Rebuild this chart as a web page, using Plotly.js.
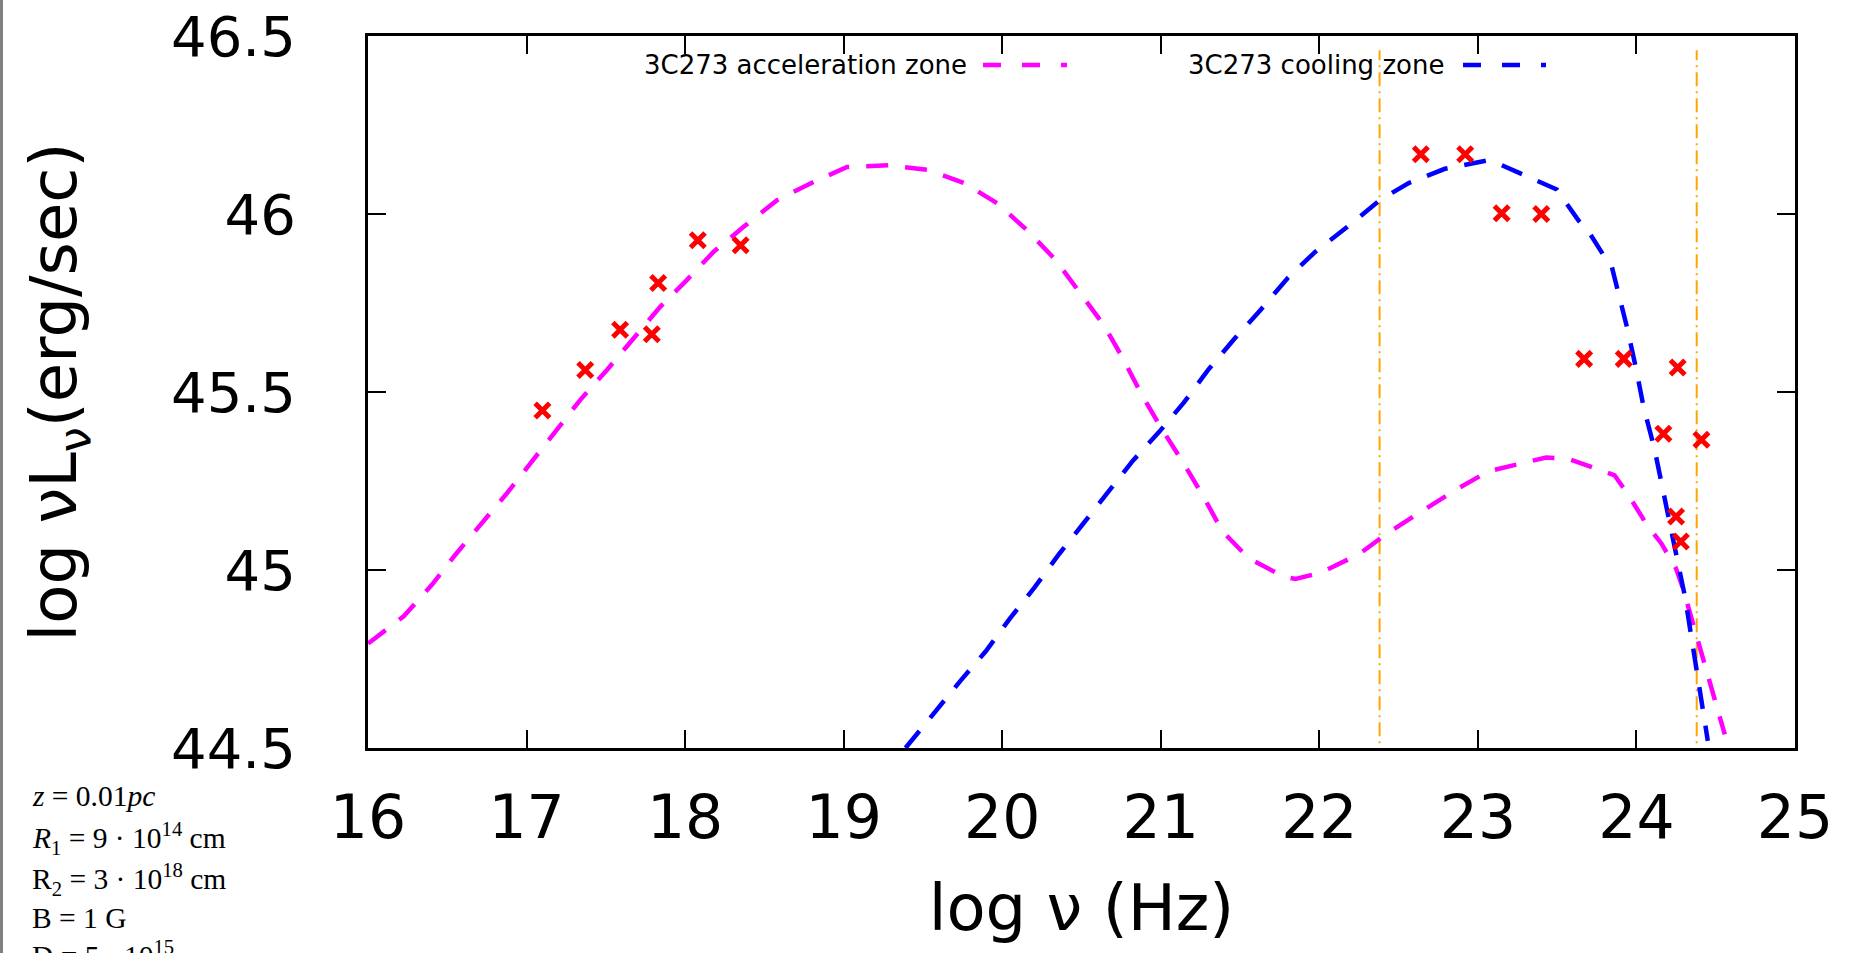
<!DOCTYPE html>
<html>
<head>
<meta charset="utf-8">
<script src="https://cdn.plot.ly/plotly-3.0.1.min.js"></script>
<style>
html,body{margin:0;padding:0;background:#fff;overflow:hidden;}
#chart{position:absolute;left:0;top:0;width:1866px;height:953px;}
#edge{position:absolute;left:0;top:0;width:3px;height:953px;background:#808080;}
</style>
</head>
<body>
<div id="chart"></div>
<div id="edge"></div>
<script>
// ---- Data ----
// observed points of 3C273 (log nu, log nuLnu)
const obsX = [17.10, 17.37, 17.59, 17.79, 17.83, 18.08, 18.35, 22.64, 22.92, 23.15, 23.40, 23.67, 23.92, 24.26, 24.17, 24.25, 24.28, 24.41];
const obsY = [45.448, 45.562, 45.675, 45.662, 45.806, 45.926, 45.912, 46.168, 46.168, 46.002, 46.0, 45.593, 45.593, 45.569, 45.383, 45.150, 45.080, 45.366];

// 3C273 acceleration zone model curve
const accX = [16.00, 16.02, 16.225, 16.404, 16.551, 16.708, 16.877, 17.034, 17.192, 17.339, 17.507, 17.675, 17.844, 18.012, 18.180, 18.369, 18.580, 18.811, 19.021, 19.286, 19.529, 19.761, 19.972, 20.160, 20.337, 20.481, 20.636, 20.757, 20.879, 21.001, 21.134, 21.267, 21.388, 21.554, 21.776, 21.85, 22.008, 22.252, 22.428, 22.632, 22.860, 23.065, 23.293, 23.430, 23.566, 23.794, 23.862, 23.953, 24.067, 24.158, 24.250, 24.295, 24.386, 24.477, 24.534, 24.557];
const accY = [44.794, 44.800, 44.870, 44.959, 45.043, 45.127, 45.216, 45.305, 45.394, 45.478, 45.562, 45.651, 45.740, 45.815, 45.894, 45.964, 46.039, 46.090, 46.132, 46.137, 46.124, 46.087, 46.029, 45.953, 45.871, 45.784, 45.691, 45.598, 45.493, 45.400, 45.307, 45.208, 45.109, 45.033, 44.981, 44.975, 44.992, 45.045, 45.103, 45.161, 45.225, 45.277, 45.301, 45.316, 45.313, 45.277, 45.266, 45.208, 45.126, 45.074, 45.004, 44.946, 44.806, 44.666, 44.573, 44.538];

// 3C273 cooling zone model curve
const coolX = [19.39, 19.585, 19.739, 19.895, 20.049, 20.204, 20.359, 20.514, 20.669, 20.824, 20.990, 21.145, 21.300, 21.466, 21.632, 21.798, 21.975, 22.177, 22.384, 22.564, 22.792, 22.860, 23.065, 23.110, 23.293, 23.361, 23.498, 23.543, 23.634, 23.703, 23.794, 23.840, 23.885, 23.942, 23.999, 24.045, 24.113, 24.158, 24.226, 24.307, 24.363, 24.397, 24.443, 24.45];
const coolY = [44.50, 44.608, 44.690, 44.771, 44.864, 44.951, 45.045, 45.132, 45.219, 45.307, 45.388, 45.470, 45.563, 45.650, 45.732, 45.819, 45.894, 45.964, 46.040, 46.087, 46.127, 46.133, 46.151, 46.145, 46.110, 46.098, 46.069, 46.040, 45.982, 45.947, 45.883, 45.860, 45.784, 45.679, 45.563, 45.458, 45.342, 45.249, 45.097, 44.923, 44.760, 44.655, 44.538, 44.52];

// vertical marker lines (log nu)
const vlineX = [22.38, 24.38];
const vlineYRange = [44.46, 46.46];

// axes
const xTicks = [16, 17, 18, 19, 20, 21, 22, 23, 24, 25];
const yTicks = [44.5, 45, 45.5, 46, 46.5];
const yTickText = ['44.5', '45', '45.5', '46', '46.5'];

// legend labels and parameter text
const seriesNames = ['3C273 acceleration zone', '3C273 cooling zone'];
const paramLines = [
  '<i>z</i> = 0.01<i>pc</i>',
  '<i>R</i><sub>1</sub> = 9 · 10<sup>14</sup> cm',
  'R<sub>2</sub> = 3 · 10<sup>18</sup> cm',
  'B = 1 G',
  'D = 5 · 10<sup>15</sup>'
];

// ---- Layout geometry ----
const ML = 368, MR = 71, MT = 36, MB = 205;
const W = 1866 - ML - MR, H = 953 - MT - MB;
const px = x => (x - ML) / W;
const py = y => 1 - (y - MT) / H;

const MAG = '#ff00ff', BLUE = '#0000ff', RED = '#ff0000', ORANGE = '#ffa500';
const curveDash = '22px,17px';

const traces = [];
vlineX.forEach(v => {
  traces.push({x: [v, v], y: vlineYRange, mode: 'lines', showlegend: false, hoverinfo: 'skip',
    line: {color: ORANGE, width: 2, dash: '14px,5px,2px,5px'}});
});
traces.push({x: accX, y: accY, mode: 'lines', name: seriesNames[0], showlegend: false,
  line: {color: MAG, width: 4.5, dash: curveDash}});
traces.push({x: coolX, y: coolY, mode: 'lines', name: seriesNames[1], showlegend: false,
  line: {color: BLUE, width: 4.5, dash: curveDash}});
traces.push({x: obsX, y: obsY, mode: 'markers', name: '3C273 data', showlegend: false,
  marker: {symbol: 'x-thin', size: 14.5, color: RED, line: {color: RED, width: 5}}});

const annotations = [
  {text: seriesNames[0], xref: 'paper', yref: 'paper', x: px(968.7), y: py(65), xanchor: 'right', yanchor: 'middle',
   showarrow: false, font: {family: 'DejaVu Sans', size: 26, color: '#000'}},
  {text: seriesNames[1], xref: 'paper', yref: 'paper', x: px(1446.3), y: py(65), xanchor: 'right', yanchor: 'middle',
   showarrow: false, font: {family: 'DejaVu Sans', size: 26, color: '#000'}}
];
const paramBase = [805, 847, 888, 927, 963];
paramLines.forEach((t, i) => {
  annotations.push({text: t, xref: 'paper', yref: 'paper', x: px(30), y: py(paramBase[i] - 9),
    xanchor: 'left', yanchor: 'middle', showarrow: false,
    font: {family: 'Liberation Serif', size: 29.5, color: '#000'}});
});

const shapes = [
  {type: 'line', xref: 'paper', yref: 'paper', x0: px(983), x1: px(1067), y0: py(65), y1: py(65),
   line: {color: MAG, width: 4.5, dash: '18px,21px'}},
  {type: 'line', xref: 'paper', yref: 'paper', x0: px(1463), x1: px(1546), y0: py(65), y1: py(65),
   line: {color: BLUE, width: 4.5, dash: '18px,21px'}}
];

const layout = {
  width: 1866, height: 953,
  margin: {l: ML, r: MR, t: MT, b: MB, pad: 0},
  paper_bgcolor: '#fff', plot_bgcolor: '#fff',
  showlegend: false,
  font: {family: 'DejaVu Sans', color: '#000'},
  xaxis: {
    range: [16, 25], tickmode: 'array', tickvals: xTicks,
    showgrid: false, zeroline: false,
    showline: true, linecolor: '#000', linewidth: 3, mirror: 'ticks',
    ticks: 'inside', ticklen: 18, tickwidth: 2, tickcolor: '#000',
    tickfont: {family: 'DejaVu Sans', size: 60, color: '#000'},
    ticklabelstandoff: 15,
    title: {text: 'log ν (Hz)', font: {family: 'DejaVu Sans', size: 64, color: '#000'}, standoff: 35},
    automargin: false
  },
  yaxis: {
    range: [44.5, 46.5], tickmode: 'array', tickvals: yTicks, ticktext: yTickText,
    showgrid: false, zeroline: false,
    showline: true, linecolor: '#000', linewidth: 3, mirror: 'ticks',
    ticks: 'inside', ticklen: 18, tickwidth: 2, tickcolor: '#000',
    tickfont: {family: 'DejaVu Sans', size: 56, color: '#000'},
    ticklabelstandoff: 58,
    title: {text: 'log νL<sub>ν</sub>(erg/sec)', font: {family: 'DejaVu Sans', size: 64, color: '#000'}, standoff: 74},
    automargin: false
  },
  annotations: annotations,
  shapes: shapes
};

Plotly.newPlot('chart', traces, layout, {displayModeBar: false, staticPlot: true});
</script>
</body>
</html>
